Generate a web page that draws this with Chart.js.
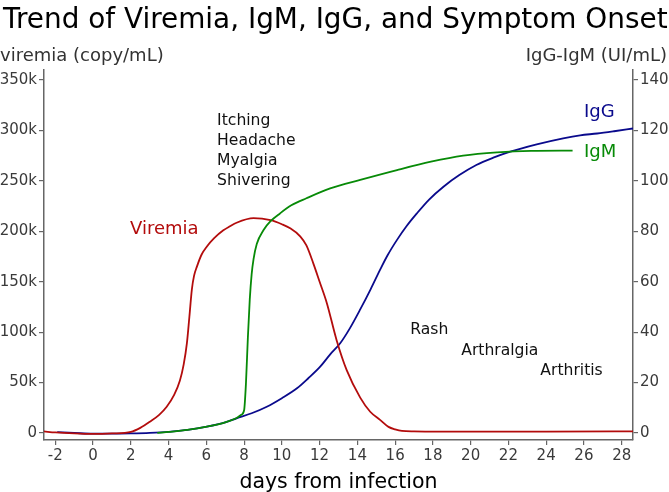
<!DOCTYPE html>
<html>
<head>
<meta charset="utf-8">
<script src="https://cdn.jsdelivr.net/npm/chart.js@4.4.0/dist/chart.umd.min.js"></script>
<style>
  body { margin: 0; background: #fff; }
  #wrap { width: 669px; height: 492px; }
</style>
</head>
<body>
<div id="wrap"><canvas id="chart"></canvas></div>
<script>
// --- data ---
const xTicks = [-2, 0, 2, 4, 6, 8, 10, 12, 14, 16, 18, 20, 22, 24, 26, 28];
const leftTicks = [0, 50000, 100000, 150000, 200000, 250000, 300000, 350000];
const rightTicks = [0, 20, 40, 60, 80, 100, 120, 140];

// viremia (copy/mL), left axis
const viremiaDays = [-2.6, -2, -1, 0, 1, 2, 2.5, 3.0, 3.5, 3.9, 4.3, 4.6, 4.8, 4.97, 5.1, 5.23, 5.35, 5.5,
  5.75, 6.03, 6.4, 6.9, 7.25, 7.6, 8.5, 9.4, 10.0, 10.44, 10.97, 11.3, 11.67, 12.0, 12.38, 12.9, 13.44,
  14.15, 14.68, 15.2, 15.65, 16.0, 16.36, 17, 20, 24, 28.6];
const viremiaValues = [1500, 500, -500, -1000, -500, 1000, 5000, 11000, 18000, 26000, 38000, 52000, 68000, 89000,
  115000, 142000, 156000, 165000, 177000, 185000, 193000, 201000, 205000, 208500, 213000, 211000, 207000,
  203000, 195000, 186000, 168000, 150000, 129000, 92000, 62000, 35000, 21000, 13000, 6000, 3500, 2000,
  1600, 1300, 1400, 1600];

// IgG (UI/mL), right axis
const iggDays = [-1.9, -1, 0, 1, 2, 3, 4, 5, 6.03, 7, 7.6, 8.4, 9.2, 10, 10.8, 11.4, 12.03, 12.56, 13.09,
  13.6, 14.15, 14.7, 15.2, 15.6, 16.1, 16.6, 17.15, 17.8, 18.56, 19.4, 20.3, 21.2, 22.1, 23.5, 24.9,
  25.8, 26.7, 27.6, 28.6];
const iggValues = [0.3, 0, -0.3, -0.3, -0.2, 0, 0.4, 1.2, 2.5, 4.2, 5.8, 7.8, 10.4, 13.8, 17.7, 21.7, 26.3,
  31.2, 35.6, 41.5, 49, 57, 64.7, 70.5, 76.6, 82, 87.1, 92.6, 97.7, 102.3, 106.3, 109.2, 111.6, 114.5,
  116.9, 118.1, 118.8, 119.7, 120.8];

// IgM (UI/mL), right axis
const igmDays = [3.4, 4, 5, 6.03, 7, 7.6, 7.85, 8.0, 8.1, 8.2, 8.3, 8.4, 8.5, 8.67, 9.03, 9.4, 9.9, 10.5,
  11.3, 12.56, 14.15, 16.1, 17.9, 19.6, 21.4, 23.2, 25.4];
const igmValues = [0, 0.4, 1.2, 2.5, 4.2, 5.9, 7.2, 9, 20, 38, 53, 63, 69, 75, 80.5, 84, 87.1, 90.3, 93.1,
  97, 100.4, 104.3, 107.6, 110, 111.3, 111.9, 112];

// text labels placed in data units
const notes = [
  { text: 'Itching',   x: 6.57, y: 309000, axis: 'y' },
  { text: 'Headache',  x: 6.57, y: 289500, axis: 'y' },
  { text: 'Myalgia',   x: 6.57, y: 269700, axis: 'y' },
  { text: 'Shivering', x: 6.57, y: 249900, axis: 'y' },
  { text: 'Rash',       x: 16.8, y: 102000, axis: 'y' },
  { text: 'Arthralgia', x: 19.5, y: 81600, axis: 'y' },
  { text: 'Arthritis',  x: 23.69, y: 61500, axis: 'y' },
  { text: 'Viremia', x: 1.96, y: 202000, axis: 'y', color: '#b30c0c', big: true },
  { text: 'IgG', x: 26.0, y: 127.3, axis: 'y1', color: '#0a0a8c', big: true },
  { text: 'IgM', x: 26.0, y: 111.5, axis: 'y1', color: '#078a07', big: true }
];

const FONT = '"DejaVu Sans", sans-serif';
const AXIS_GRAY = '#666666';
const TICK_TEXT = '#3a3a3a';

const toPoints = (xs, ys) => xs.map((x, i) => ({ x: x, y: ys[i] }));
const fixedTicks = (list) => (scale) => { scale.ticks = list.map(v => ({ value: v })); };

const textPlugin = {
  id: 'texts',
  afterDraw(chart) {
    const ctx = chart.ctx;
    const area = chart.chartArea;
    ctx.save();
    // main title
    ctx.fillStyle = '#000';
    ctx.textAlign = 'left';
    ctx.textBaseline = 'alphabetic';
    ctx.font = '27.9px ' + FONT;
    ctx.fillText('Trend of Viremia, IgM, IgG, and Symptom Onset', 3, 28);
    // axis titles, horizontal above the axes
    ctx.fillStyle = '#333';
    ctx.font = '18px ' + FONT;
    ctx.fillText('viremia (copy/mL)', 0, 61);
    ctx.textAlign = 'right';
    ctx.fillText('IgG-IgM (UI/mL)', 667, 61);
    // x title
    ctx.fillStyle = '#000';
    ctx.textAlign = 'center';
    ctx.font = '20.5px ' + FONT;
    ctx.fillText('days from infection', (area.left + area.right) / 2, 488);
    // annotations
    ctx.textAlign = 'left';
    ctx.textBaseline = 'middle';
    notes.forEach(n => {
      const px = chart.scales.x.getPixelForValue(n.x);
      const py = chart.scales[n.axis].getPixelForValue(n.y);
      ctx.fillStyle = n.color || '#111';
      ctx.font = (n.big ? '18px ' : '15.6px ') + FONT;
      ctx.fillText(n.text, px, py);
    });
    ctx.restore();
  }
};

const lineStyle = { borderWidth: 1.8, pointRadius: 0, fill: false, cubicInterpolationMode: 'monotone' };

new Chart(document.getElementById('chart'), {
  type: 'line',
  data: {
    datasets: [
      Object.assign({ label: 'IgM', data: toPoints(igmDays, igmValues), borderColor: '#078a07', yAxisID: 'y1' }, lineStyle),
      Object.assign({ label: 'Viremia', data: toPoints(viremiaDays, viremiaValues), borderColor: '#b30c0c', yAxisID: 'y' }, lineStyle),
      Object.assign({ label: 'IgG', data: toPoints(iggDays, iggValues), borderColor: '#0a0a8c', yAxisID: 'y1' }, lineStyle)
    ]
  },
  options: {
    responsive: true,
    maintainAspectRatio: false,
    animation: false,
    layout: { padding: { top: 70, left: 0, right: 0, bottom: 0 } },
    plugins: { legend: { display: false }, title: { display: false }, tooltip: { enabled: false } },
    scales: {
      x: {
        type: 'linear',
        min: -2.6,
        max: 28.6,
        afterBuildTicks: fixedTicks(xTicks),
        afterFit: (scale) => { scale.height = 52; },
        grid: { drawOnChartArea: false, color: AXIS_GRAY, tickLength: 5, lineWidth: 1.2 },
        border: { color: AXIS_GRAY, width: 1.5 },
        ticks: { color: TICK_TEXT, font: { family: FONT, size: 15 }, padding: 2, maxRotation: 0 }
      },
      y: {
        position: 'left',
        min: -7000,
        max: 360000,
        afterBuildTicks: fixedTicks(leftTicks),
        afterFit: (scale) => { scale.width = 44; },
        grid: { drawOnChartArea: false, color: AXIS_GRAY, tickLength: 5, lineWidth: 1.2 },
        border: { color: AXIS_GRAY, width: 1.5 },
        ticks: {
          color: TICK_TEXT, padding: 2, font: { family: FONT, size: 15 },
          callback: (v) => v === 0 ? '0' : (v / 1000) + 'k'
        }
      },
      y1: {
        position: 'right',
        min: -2.8,
        max: 144,
        afterBuildTicks: fixedTicks(rightTicks),
        afterFit: (scale) => { scale.width = 36; },
        grid: { drawOnChartArea: false, color: AXIS_GRAY, tickLength: 5, lineWidth: 1.2 },
        border: { color: AXIS_GRAY, width: 1.5 },
        ticks: { color: TICK_TEXT, padding: 2, font: { family: FONT, size: 15 } }
      }
    }
  },
  plugins: [textPlugin]
});
</script>
</body>
</html>
